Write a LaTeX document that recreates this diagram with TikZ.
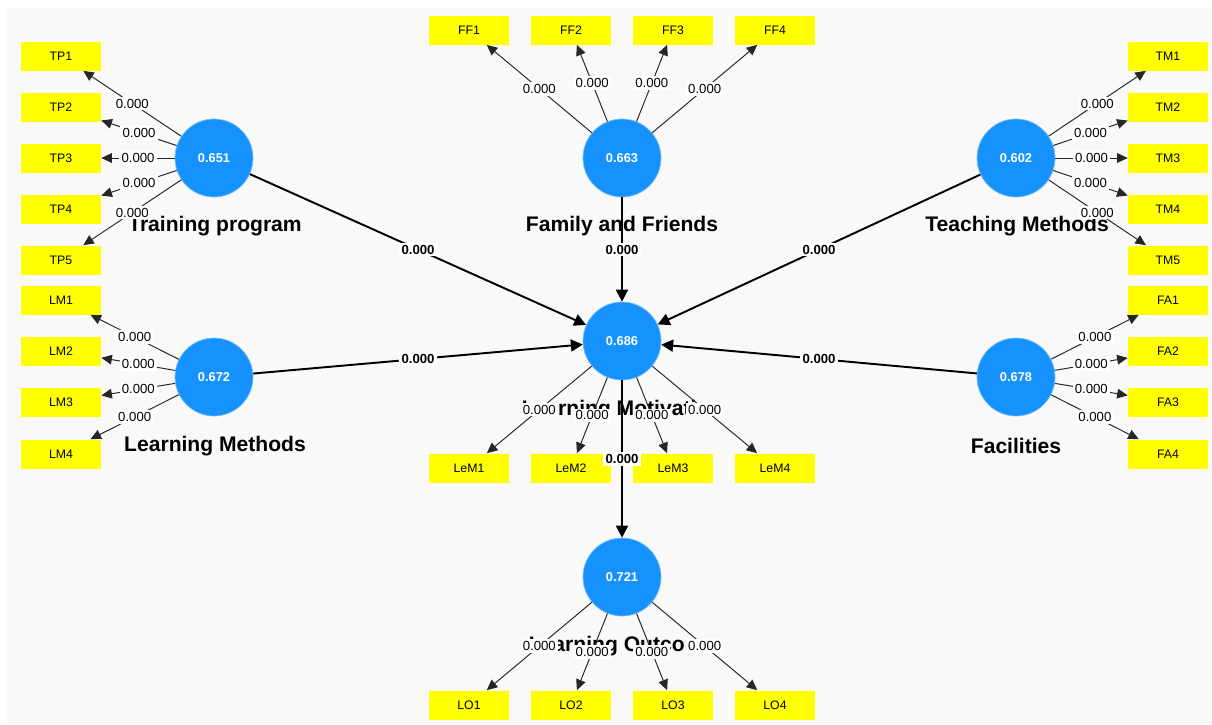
\documentclass[tikz,border=0pt]{standalone}
\usepackage{fontspec}
\setmainfont{Liberation Sans}
\usetikzlibrary{arrows.meta}
\definecolor{plsblue}{RGB}{22,146,255}
\definecolor{plsyellow}{RGB}{255,255,0}
\definecolor{bggray}{RGB}{249,249,249}

\begin{document}
\begin{tikzpicture}[x=0.02cm,y=-0.02cm]
\tikzset{
	lv/.style={circle, fill=plsblue, draw=plsblue!60!white, line width=0.4pt, minimum size=1.56cm, inner sep=0pt, text=white, font=\fontsize{7.3}{9}\selectfont\bfseries},
	mv/.style={rectangle, fill=plsyellow, minimum width=1.6cm, minimum height=0.58cm, inner sep=0pt, font=\fontsize{7}{8}\selectfont},
	nm/.style={inner sep=0pt, font=\fontsize{12}{14}\selectfont\bfseries},
	lo/.style={-{Triangle[length=6pt,width=5.5pt]}, line width=0.55pt, black!85},
	pa/.style={-{Triangle[length=6.8pt,width=6.8pt]}, line width=1.1pt},
	val/.style={fill=white, inner sep=1.2pt, text=black, font=\fontsize{7.5}{9}\selectfont},
	valb/.style={val, font=\fontsize{7.5}{9}\selectfont\bfseries}
}

% fond
\useasboundingbox (0,0) rectangle (1212,724);
\fill[bggray] (7,8) rectangle (1212,724);

% noms des variables latentes
\node[nm] (TP_n)  at (215,226) {Training program};
\node[nm] (FF_n)  at (622,226) {Family and Friends};
\node[nm] (TM_n)  at (1017,226) {Teaching Methods};
\node[nm] (LM_n)  at (215,446) {Learning Methods};
\node[nm] (LeM_n) at (622,410) {Learning Motivation};
\node[nm] (FA_n)  at (1016,446) {Facilities};
\node[nm] (LO_n)  at (622,646) {Learning Outcome};

% variables latentes
\node[lv] (TP)  at (214,158) {0.651};
\node[lv] (FF)  at (622,158) {0.663};
\node[lv] (TM)  at (1016,158) {0.602};
\node[lv] (LM)  at (214,377) {0.672};
\node[lv] (LeM) at (622,341) {0.686};
\node[lv] (FA)  at (1016,377) {0.678};
\node[lv] (LO)  at (622,577) {0.721};

% TP
\node[mv] (TP1) at (61,56)  {TP1};
\node[mv] (TP2) at (61,107) {TP2};
\node[mv] (TP3) at (61,158) {TP3};
\node[mv] (TP4) at (61,209) {TP4};
\node[mv] (TP5) at (61,260) {TP5};

% LM
\node[mv] (LM1) at (61,300) {LM1};
\node[mv] (LM2) at (61,351) {LM2};
\node[mv] (LM3) at (61,402) {LM3};
\node[mv] (LM4) at (61,454) {LM4};

% FF
\node[mv] (FF1) at (469,30) {FF1};
\node[mv] (FF2) at (571,30) {FF2};
\node[mv] (FF3) at (673,30) {FF3};
\node[mv] (FF4) at (775,30) {FF4};

% LeM
\node[mv] (LeM1) at (469,468) {LeM1};
\node[mv] (LeM2) at (571,468) {LeM2};
\node[mv] (LeM3) at (673,468) {LeM3};
\node[mv] (LeM4) at (775,468) {LeM4};

% LO
\node[mv] (LO1) at (469,705) {LO1};
\node[mv] (LO2) at (571,705) {LO2};
\node[mv] (LO3) at (673,705) {LO3};
\node[mv] (LO4) at (775,705) {LO4};

% TM
\node[mv] (TM1) at (1168,56)  {TM1};
\node[mv] (TM2) at (1168,107) {TM2};
\node[mv] (TM3) at (1168,158) {TM3};
\node[mv] (TM4) at (1168,209) {TM4};
\node[mv] (TM5) at (1168,260) {TM5};

% FA
\node[mv] (FA1) at (1168,300) {FA1};
\node[mv] (FA2) at (1168,351) {FA2};
\node[mv] (FA3) at (1168,402) {FA3};
\node[mv] (FA4) at (1168,454) {FA4};

% chemins structurels
\draw[pa] (TP) -- node[valb] {0.000} (LeM);
\draw[pa] (FF) -- node[valb] {0.000} (LeM);
\draw[pa] (TM) -- node[valb] {0.000} (LeM);
\draw[pa] (LM) -- node[valb] {0.000} (LeM);
\draw[pa] (FA) -- node[valb] {0.000} (LeM);
\draw[pa] (LeM) -- node[valb] {0.000} (LO);

% loadings: TP
\draw[lo] (TP) -- node[val] {0.000} (TP1);
\draw[lo] (TP) -- node[val] {0.000} (TP2);
\draw[lo] (TP) -- node[val] {0.000} (TP3);
\draw[lo] (TP) -- node[val] {0.000} (TP4);
\draw[lo] (TP) -- node[val] {0.000} (TP5);
% loadings: LM
\draw[lo] (LM) -- node[val] {0.000} (LM1);
\draw[lo] (LM) -- node[val] {0.000} (LM2);
\draw[lo] (LM) -- node[val] {0.000} (LM3);
\draw[lo] (LM) -- node[val] {0.000} (LM4);
% loadings: FF
\draw[lo] (FF) -- node[val] {0.000} (FF1);
\draw[lo] (FF) -- node[val] {0.000} (FF2);
\draw[lo] (FF) -- node[val] {0.000} (FF3);
\draw[lo] (FF) -- node[val] {0.000} (FF4);
% loadings: LeM
\draw[lo] (LeM) -- node[val] {0.000} (LeM1);
\draw[lo] (LeM) -- node[val] {0.000} (LeM2);
\draw[lo] (LeM) -- node[val] {0.000} (LeM3);
\draw[lo] (LeM) -- node[val] {0.000} (LeM4);
% loadings: LO
\draw[lo] (LO) -- node[val] {0.000} (LO1);
\draw[lo] (LO) -- node[val] {0.000} (LO2);
\draw[lo] (LO) -- node[val] {0.000} (LO3);
\draw[lo] (LO) -- node[val] {0.000} (LO4);
% loadings: TM
\draw[lo] (TM) -- node[val] {0.000} (TM1);
\draw[lo] (TM) -- node[val] {0.000} (TM2);
\draw[lo] (TM) -- node[val] {0.000} (TM3);
\draw[lo] (TM) -- node[val] {0.000} (TM4);
\draw[lo] (TM) -- node[val] {0.000} (TM5);
% loadings: FA
\draw[lo] (FA) -- node[val] {0.000} (FA1);
\draw[lo] (FA) -- node[val] {0.000} (FA2);
\draw[lo] (FA) -- node[val] {0.000} (FA3);
\draw[lo] (FA) -- node[val] {0.000} (FA4);

\end{tikzpicture}
\end{document}
